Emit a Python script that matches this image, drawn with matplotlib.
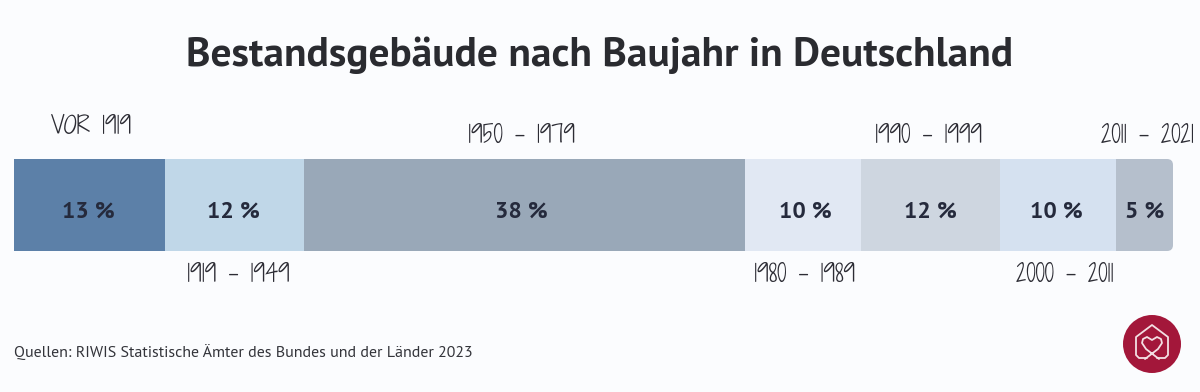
import matplotlib
matplotlib.use("Agg")
import matplotlib.pyplot as plt
from matplotlib.patches import Circle, FancyBboxPatch

# share of buildings by construction period
periods = ["VOR 1919", "1919 - 1949", "1950 - 1979", "1980 - 1989",
           "1990 - 1999", "2000 - 2011", "2011 - 2021"]
shares = [13, 12, 38, 10, 12, 10, 5]
colors = ["#5c80a8", "#c0d7e8", "#99a8b8", "#e1e8f3", "#ced6e0", "#d5e1f0", "#b5bfcc"]

# label offset in pixels from the segment centre / bar edge
label_dx = [2, 4, -3, 2, -2, 7, 2]
label_dy = [31, -25, 22, -25, 22, -25, 22]
pct_dx = [-1, -1, -3, 3, 0, -1.5, 0]

BG = "#fbfcfe"
INK = "#252a3c"
BOLD = ["PT Sans", "Noto Sans", "DejaVu Sans"]
HAND = ["Shadows Into Light Two", "Shadows Into Light", "Liberation Sans Narrow", "DejaVu Sans"]
W, H = 1200, 392

fig = plt.figure(figsize=(W / 100, H / 100), dpi=100, facecolor=BG)

# stacked bar: 14..1173 px wide, 159..251 px from top
ax = fig.add_axes([14 / W, 1 - 251 / H, 1160 / W, 92 / H])
ax.set_xlim(0, sum(shares))
ax.set_ylim(0, 1)
ax.axis("off")

left = 0
bars = []
for i, (period, share, c) in enumerate(zip(periods, shares, colors)):
    b = ax.barh(0.5, share, left=left, height=1, color=c, lw=0)[0]
    bars.append(b)
    mid = left + share / 2
    ax.annotate(f"{share} %", (mid, 0.425), xytext=(pct_dx[i] * 0.72, 0),
                textcoords="offset points", ha="center", va="center", fontsize=17,
                fontweight="bold", family=BOLD, color=INK)
    dy = label_dy[i]
    ax.annotate(period, (mid, 1 if dy > 0 else 0), xytext=(label_dx[i] * 0.72, dy * 0.72),
                textcoords="offset points", ha="center", va="center",
                fontsize=17, family=HAND, color="#2c2c34", clip_on=False)
    left += share

# pixel overlay for rounded bar end and logo
ov = fig.add_axes([0, 0, 1, 1], zorder=3)
ov.set_xlim(0, W)
ov.set_ylim(H, 0)
ov.axis("off")
ov.patch.set_alpha(0)

clip = FancyBboxPatch((1090, 159), 83, 92, boxstyle="round,pad=0,rounding_size=6",
                      transform=ov.transData, fc="none", ec="none")
ov.add_patch(clip)
bars[-1].set_clip_path(clip)

ov.text(600, 55, "Bestandsgebäude nach Baujahr in Deutschland", ha="center", va="center",
        fontsize=29.75, fontweight="bold", family=BOLD, color="#2a2b30")
ov.text(14, 352, "Quellen: RIWIS Statistische Ämter des Bundes und der Länder 2023",
        ha="left", va="center", fontsize=11.55, family=["PT Sans", "Noto Sans", "DejaVu Sans"], color="#33343a")

# logo
ov.add_patch(Circle((1152, 344), 29, fc="#a3173a", ec="none"))
house_x = [1147, 1139, 1136, 1136, 1152, 1168, 1168, 1165, 1157]
house_y = [358, 358, 355, 337, 325, 337, 355, 358, 358]
ov.plot(house_x, house_y, color="#f3dfe3", lw=1.3, solid_capstyle="round")
heart_x = [1159, 1146, 1142, 1143, 1147, 1152, 1157, 1161, 1162, 1158, 1145]
heart_y = [359, 349, 343, 339, 337, 340, 337, 339, 343, 349, 359]
ov.plot(heart_x, heart_y, color="#f3dfe3", lw=1.3, solid_capstyle="round")

fig.savefig("out.png", dpi=100, facecolor=BG)
